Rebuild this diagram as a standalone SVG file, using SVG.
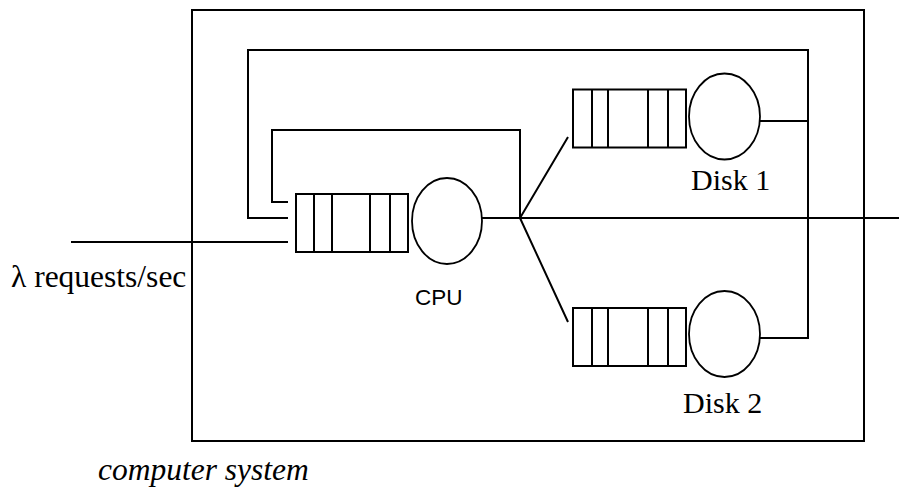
<svg xmlns="http://www.w3.org/2000/svg" width="902" height="488" viewBox="0 0 902 488">
<style>
.ln{fill:none;stroke:#000;stroke-width:2;stroke-linecap:butt;stroke-linejoin:miter}
.q{fill:#fff;stroke:#000;stroke-width:2}
.srv{fill:#fff;stroke:#000;stroke-width:1.8}
.tm{font-family:"Liberation Serif","Times New Roman",serif;fill:#000}
.ar{font-family:"Liberation Sans",Arial,sans-serif;fill:#000}
</style>
<rect width="902" height="488" fill="#fff"/>
<g id="system">
<rect class="ln" x="192" y="10" width="672" height="431"/>
<text class="tm" x="98" y="480" font-size="31.5" font-style="italic">computer system</text>
</g>
<g id="connectors">
<polyline class="ln" points="71,242 288,242"/>
<polyline class="ln" points="288,202 272,202 272,130 520,130 520,218"/>
<polyline class="ln" points="288,218 248,218 248,50 808,50 808,338 760,338"/>
<polyline class="ln" points="760,121 808,121"/>
<polyline class="ln" points="480,218 899,218"/>
<polyline class="ln" points="568,137 520,218 568,322"/>
</g>
<g id="cpu">
<rect class="q" x="296" y="194" width="112" height="58"/>
<path class="ln" d="M314,194V252M332,194V252M370,194V252M390,194V252"/>
<ellipse class="srv" cx="447" cy="221" rx="35" ry="43"/>
<text class="ar" x="415" y="305" font-size="22.5">CPU</text>
</g>
<g id="disk1">
<rect class="q" x="573" y="89.5" width="113" height="58"/>
<path class="ln" d="M592,89.5V147.5M608,89.5V147.5M648,89.5V147.5M668,89.5V147.5"/>
<ellipse class="srv" cx="724.5" cy="116.5" rx="35.5" ry="43"/>
<text class="tm" x="691" y="190" font-size="30">Disk 1</text>
</g>
<g id="disk2">
<rect class="q" x="573" y="308" width="113" height="58"/>
<path class="ln" d="M592,308V366M608,308V366M648,308V366M668,308V366"/>
<ellipse class="srv" cx="724.5" cy="334" rx="35.5" ry="43"/>
<text class="tm" x="683" y="413" font-size="30">Disk 2</text>
</g>
<g id="arrivals">
<text class="tm" x="11" y="287" font-size="31.5">λ requests/sec</text>
</g>
</svg>
